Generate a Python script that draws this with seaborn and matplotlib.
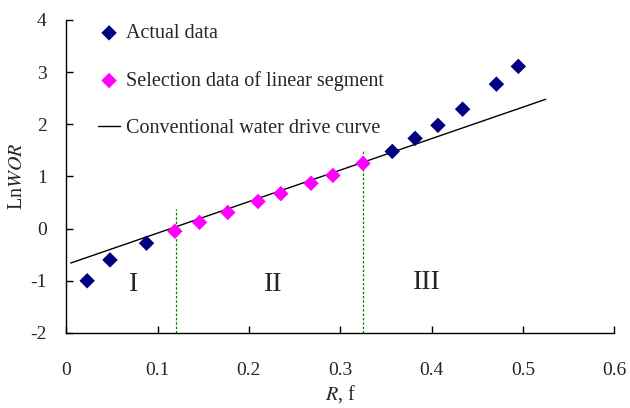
import matplotlib
matplotlib.use("Agg")
import matplotlib.pyplot as plt
import seaborn as sns
import pandas as pd

# Data
actual_x1 = [0.023, 0.048, 0.088]
actual_y1 = [-1.00, -0.60, -0.28]
select_x = [0.119, 0.146, 0.177, 0.210, 0.235, 0.268, 0.292, 0.325]
select_y = [-0.05, 0.12, 0.31, 0.52, 0.67, 0.87, 1.02, 1.25]
actual_x2 = [0.357, 0.382, 0.407, 0.434, 0.471, 0.495]
actual_y2 = [1.48, 1.73, 1.98, 2.29, 2.77, 3.11]
line_x = [0.005, 0.525]
line_y = [-0.66, 2.48]
boundary_x = [0.12, 0.325]
boundary_top = [0.38, 1.5]
zone_labels = ["I", "II", "III"]
zone_x = [0.074, 0.227, 0.395]
zone_y = [-1.08, -1.08, -1.04]
x_ticks = [0, 0.1, 0.2, 0.3, 0.4, 0.5, 0.6]
x_tick_labels = ["0", "0.1", "0.2", "0.3", "0.4", "0.5", "0.6"]
y_ticks = [-2, -1, 0, 1, 2, 3, 4]

sns.set_style("white")
plt.rcParams['font.family'] = ['Liberation Serif', 'DejaVu Serif']
plt.rcParams['mathtext.fontset'] = 'stix'
plt.rcParams['axes.unicode_minus'] = False

fig, ax = plt.subplots(figsize=(6.3, 4.08), dpi=100)
fig.subplots_adjust(left=0.105, right=0.975, top=0.951, bottom=0.184)

df_actual = pd.DataFrame({"x": actual_x1 + actual_x2, "y": actual_y1 + actual_y2})
df_sel = pd.DataFrame({"x": select_x, "y": select_y})

sns.scatterplot(data=df_actual, x="x", y="y", ax=ax, marker="D", s=62,
                color="#000080", edgecolor="none", label="Actual data", zorder=3)
sns.scatterplot(data=df_sel, x="x", y="y", ax=ax, marker="D", s=62,
                color="#FF00FF", edgecolor="none", label="Selection data of linear segment", zorder=3)
sns.lineplot(x=line_x, y=line_y, ax=ax, color="black", linewidth=1.0,
             label="Conventional water drive curve", zorder=2)

for bx, bt in zip(boundary_x, boundary_top):
    ax.plot([bx, bx], [-2, bt], color="#008000", linestyle=(0, (2, 1.5)), linewidth=0.9, zorder=1)

for lab, zx, zy in zip(zone_labels, zone_x, zone_y):
    ax.text(zx, zy, lab, fontsize=20, ha="center", va="center")

ax.set_xlim(0, 0.6)
ax.set_ylim(-2, 4)
ax.set_xticks(x_ticks)
ax.set_xticklabels(x_tick_labels)
ax.set_yticks(y_ticks)
ax.tick_params(direction="in", length=5, width=1, labelsize=14, color="black",
               bottom=True, left=True)
ax.tick_params(axis="x", pad=21)
ax.tick_params(axis="y", pad=14)
for side in ["top", "right"]:
    ax.spines[side].set_visible(False)
for side in ["left", "bottom"]:
    ax.spines[side].set_color("black")
    ax.spines[side].set_linewidth(1.0)

ax.set_xlabel(r"$\it{R}$, f", fontsize=14.5, labelpad=3)
ax.set_ylabel(r"Ln$\it{WOR}$", fontsize=14.5)
ax.yaxis.set_label_coords(-0.071, 0.5)

leg = ax.legend(loc="upper left", bbox_to_anchor=(0.025, 1.045), frameon=False,
                fontsize=14.5, labelspacing=1.38, handlelength=1.1, handletextpad=0.3)

fig.savefig("out.png", dpi=100)
